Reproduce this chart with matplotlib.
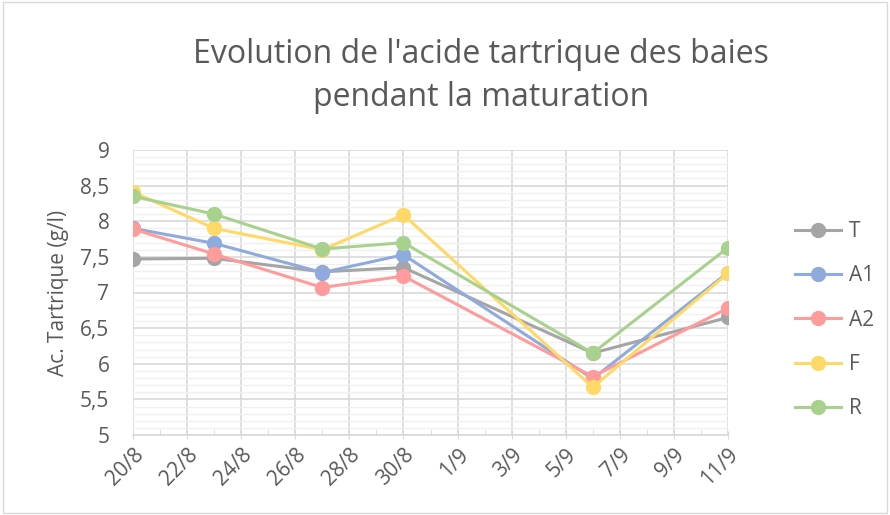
import pandas as pd
import matplotlib
matplotlib.use("Agg")
import matplotlib.pyplot as plt
import matplotlib.dates as mdates
from matplotlib.ticker import FuncFormatter, MultipleLocator

dates = pd.to_datetime(["2021-08-20", "2021-08-23", "2021-08-27", "2021-08-30", "2021-09-06", "2021-09-11"])
series_names = ["T", "A1", "A2", "F", "R"]
T = [7.47, 7.48, 7.29, 7.35, 6.15, 6.65]
A1 = [7.90, 7.69, 7.28, 7.53, 5.79, 7.28]
A2 = [7.89, 7.54, 7.07, 7.23, 5.82, 6.78]
F = [8.41, 7.90, 7.60, 8.09, 5.67, 7.27]
R = [8.35, 8.10, 7.61, 7.70, 6.15, 7.63]
colors = ["#A5A5A5", "#8FAADC", "#FF9B9B", "#FFD966", "#A9D18E"]

plt.rcParams['font.family'] = ['Open Sans', 'DejaVu Sans']
txt = "#595959"

fig = plt.figure(figsize=(8.9, 5.15), dpi=100)
ax = fig.add_axes([133/890, 1-435/515, (728-133)/890, (435-150)/515])

for name, vals, c in zip(series_names, [T, A1, A2, F, R], colors):
    ax.plot(dates, vals, color=c, lw=2.2, marker='o', ms=10, label=name, zorder=3)

ax.set_xlim(pd.Timestamp("2021-08-20"), pd.Timestamp("2021-09-11"))
ax.set_ylim(5, 9)
ax.xaxis.set_major_locator(mdates.DayLocator(interval=2))
ax.xaxis.set_minor_locator(mdates.DayLocator())
ax.xaxis.set_major_formatter(FuncFormatter(lambda v, p: f"{mdates.num2date(v).day}/{mdates.num2date(v).month}"))
ax.yaxis.set_major_locator(MultipleLocator(0.5))
ax.yaxis.set_minor_locator(MultipleLocator(0.1))
ax.yaxis.set_major_formatter(FuncFormatter(lambda v, p: f"{v:g}".replace(".", ",")))

ax.grid(which='major', color="#D9D9D9", lw=1.2)
ax.grid(which='minor', axis='y', color="#F0F0F0", lw=1)
ax.set_axisbelow(True)
for s in ax.spines.values():
    s.set_visible(False)
ax.spines['bottom'].set_visible(True)
ax.spines['bottom'].set_color("#D9D9D9")
ax.spines['bottom'].set_linewidth(1.2)
ax.tick_params(axis='y', which='both', length=0, labelsize=15, labelcolor=txt, pad=17)
ax.tick_params(axis='x', which='major', length=6, color="#D9D9D9", labelsize=15, labelcolor=txt, direction='inout')
ax.tick_params(axis='x', which='minor', length=4, color="#D9D9D9", direction='in')
plt.setp(ax.get_xticklabels(), rotation=45, ha='right', rotation_mode='anchor')

ax.set_ylabel("Ac. Tartrique (g/l)", fontsize=15, color=txt, labelpad=8)
fig.text(481/890, 1-76/515, "Evolution de l'acide tartrique des baies\npendant la maturation",
         ha='center', va='center', fontsize=23, color=txt, linespacing=1.4)

ax.legend(loc='center left', bbox_to_anchor=(776/890, 1-320/515), bbox_transform=fig.transFigure,
          frameon=False, fontsize=15, labelcolor=txt, handlelength=2.2, handletextpad=0.4, labelspacing=1.12)

fig.patches.append(plt.Rectangle((0.003, 0.003), 0.994, 0.994, transform=fig.transFigure,
                                 fill=False, edgecolor="#D9D9D9", lw=1))
fig.savefig("out.png", dpi=100)
